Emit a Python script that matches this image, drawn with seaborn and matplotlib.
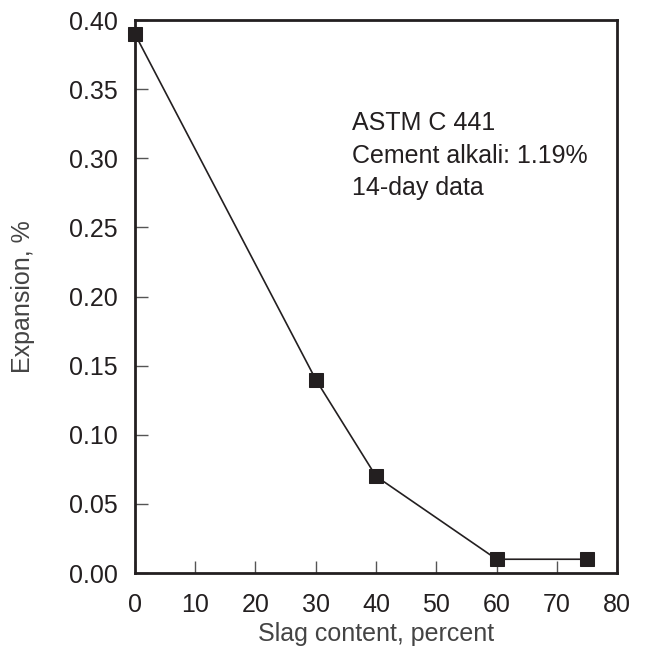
import matplotlib
matplotlib.use("Agg")
import matplotlib.pyplot as plt
import seaborn as sns
import pandas as pd

sns.set_style("white")
plt.rcParams['font.family'] = ['Liberation Sans', 'DejaVu Sans']

slag = [0, 30, 40, 60, 75]
expansion = [0.39, 0.14, 0.07, 0.01, 0.01]
df = pd.DataFrame({"slag": slag, "expansion": expansion})

fig = plt.figure(figsize=(6.58, 6.49), dpi=100)
ax = fig.add_axes([0.205, 0.117, 0.733, 0.852])

sns.lineplot(data=df, x="slag", y="expansion", ax=ax, color="#231f20",
             marker="s", markersize=10, markeredgecolor="#231f20", linewidth=1.2,
             clip_on=False)

ax.set_xlim(0, 80)
ax.set_ylim(0, 0.40)
ax.set_xticks(range(0, 81, 10))
ax.set_yticks([i * 0.05 for i in range(9)])
ax.set_yticklabels([f"{i * 0.05:.2f}" for i in range(9)])
ax.tick_params(direction="in", length=9, width=1, labelsize=18, color="#555555",
               bottom=True, left=True, top=False, right=False,
               labelcolor="#231f20")
ax.tick_params(axis="x", pad=14)
ax.tick_params(axis="y", pad=12.5)
for s in ax.spines.values():
    s.set_color("#231f20")
    s.set_linewidth(2)

ax.set_xlabel("Slag content, percent", fontsize=18, color="#444444", labelpad=4)
ax.set_ylabel("Expansion, %", fontsize=18, color="#444444", labelpad=24)

ax.text(36, 0.334, "ASTM C 441\nCement alkali: 1.19%\n14-day data",
        fontsize=18, color="#231f20", va="top", linespacing=1.45)

fig.savefig("out.png", dpi=100)
